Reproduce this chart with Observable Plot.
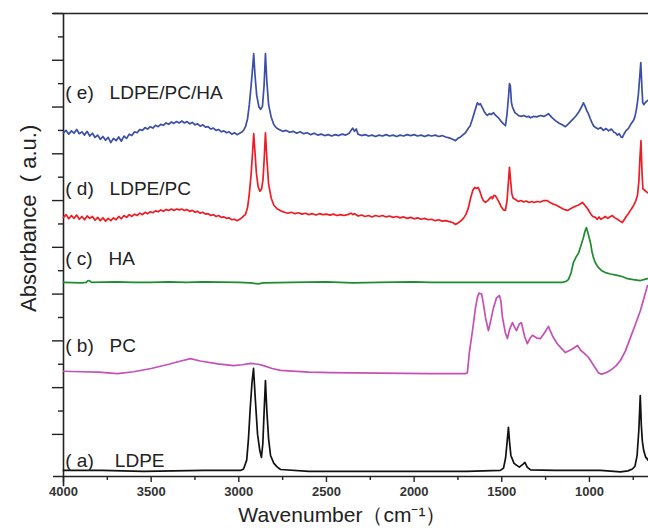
<!DOCTYPE html>
<html>
<head>
<meta charset="utf-8">
<script src="https://cdn.jsdelivr.net/npm/d3@7"></script>
<script src="https://cdn.jsdelivr.net/npm/@observablehq/plot@0.6"></script>
<style>
  html, body { margin: 0; padding: 0; background: #fff; }
  #chart { width: 648px; height: 531px; }
</style>
</head>
<body>
<div id="chart"></div>
<script>
// Wavenumber (cm-1) / absorbance (a.u., stacked offsets) pairs
const seriesE = [ // LDPE/PC/HA
  [4000,6.45],[3985,6.50],[3970,6.42],[3955,6.49],[3940,6.44],[3925,6.52],[3910,6.43],[3895,6.47],[3880,6.40],[3865,6.48],
  [3850,6.38],[3835,6.44],[3820,6.35],[3805,6.40],[3790,6.31],[3775,6.37],[3760,6.29],[3745,6.35],[3730,6.24],[3715,6.33],
  [3700,6.28],[3685,6.36],[3670,6.27],[3655,6.38],[3640,6.33],[3625,6.42],[3610,6.39],[3595,6.47],[3580,6.45],[3565,6.52],
  [3550,6.50],[3535,6.56],[3520,6.53],[3505,6.58],[3490,6.55],[3475,6.61],[3460,6.58],[3445,6.63],[3430,6.61],[3415,6.66],
  [3400,6.63],[3385,6.68],[3370,6.65],[3355,6.69],[3340,6.66],[3325,6.70],[3310,6.66],[3295,6.69],[3280,6.64],[3265,6.67],
  [3250,6.62],[3235,6.64],[3220,6.59],[3205,6.62],[3190,6.57],[3175,6.58],[3160,6.53],[3145,6.55],[3130,6.50],[3115,6.52],
  [3100,6.47],[3085,6.49],[3070,6.45],[3055,6.47],[3040,6.42],[3025,6.45],[3010,6.41],[2995,6.44],[2980,6.47],[2970,6.52],
  [2962,6.58],[2950,6.75],[2940,7.05],[2930,7.45],[2922,7.80],[2915,8.14],[2908,7.70],[2898,7.25],[2885,7.00],[2875,6.95],
  [2865,7.02],[2856,7.45],[2848,8.14],[2840,7.55],[2830,7.05],[2815,6.78],[2800,6.62],[2785,6.55],[2770,6.52],[2750,6.48],
  [2730,6.50],[2710,6.46],[2690,6.48],[2670,6.44],[2650,6.47],[2630,6.43],[2610,6.45],[2590,6.41],[2570,6.44],[2550,6.40],
  [2530,6.42],[2510,6.39],[2490,6.41],[2470,6.38],[2450,6.41],[2430,6.39],[2410,6.42],[2390,6.40],[2370,6.44],[2360,6.50],
  [2350,6.55],[2340,6.48],[2330,6.53],[2320,6.42],[2300,6.39],[2280,6.41],[2260,6.38],[2240,6.40],[2220,6.37],[2200,6.40],
  [2180,6.38],[2160,6.41],[2140,6.38],[2120,6.40],[2100,6.37],[2080,6.40],[2060,6.38],[2040,6.41],[2020,6.39],[2000,6.41],
  [1980,6.38],[1960,6.40],[1940,6.37],[1920,6.40],[1900,6.38],[1880,6.40],[1860,6.37],[1840,6.39],[1820,6.36],[1800,6.34],
  [1780,6.31],[1764,6.28],[1750,6.33],[1735,6.36],[1720,6.41],[1707,6.45],[1690,6.55],[1680,6.60],[1667,6.75],[1655,6.90],
  [1645,7.02],[1639,7.09],[1630,7.05],[1622,7.07],[1610,6.98],[1600,6.90],[1590,6.85],[1582,6.82],[1570,6.86],[1560,6.84],
  [1547,6.88],[1535,6.82],[1525,6.79],[1519,6.77],[1505,6.70],[1490,6.64],[1479,6.60],[1470,6.85],[1462,7.20],[1456,7.50],
  [1451,7.45],[1445,7.10],[1439,7.00],[1425,6.88],[1405,6.82],[1390,6.80],[1375,6.82],[1360,6.79],[1345,6.80],[1336,6.77],
  [1320,6.80],[1300,6.79],[1280,6.82],[1260,6.80],[1240,6.84],[1234,6.86],[1215,6.78],[1194,6.71],[1175,6.66],[1155,6.62],
  [1137,6.58],[1120,6.64],[1105,6.70],[1091,6.75],[1075,6.82],[1060,6.90],[1045,7.00],[1034,7.09],[1025,7.02],[1015,6.92],
  [1006,6.86],[995,6.75],[985,6.66],[977,6.60],[965,6.56],[950,6.53],[935,6.56],[920,6.50],[905,6.54],[890,6.49],
  [875,6.53],[860,6.46],[852,6.45],[840,6.40],[830,6.43],[820,6.36],[812,6.35],[800,6.44],[790,6.50],[778,6.54],
  [766,6.62],[755,6.68],[749,6.71],[740,6.80],[732,6.95],[726,7.10],[720,7.30],[714,7.60],[707,7.95],[701,7.45],
  [696,7.10],[690,7.05],[680,7.10],[669,7.14]
];
const seriesD = [ // LDPE/PC
  [4000,4.64],[3985,4.70],[3970,4.61],[3955,4.68],[3940,4.62],[3925,4.69],[3910,4.60],[3895,4.66],[3880,4.59],[3865,4.67],
  [3850,4.62],[3835,4.66],[3820,4.58],[3805,4.64],[3790,4.57],[3775,4.63],[3760,4.56],[3745,4.62],[3730,4.57],[3715,4.63],
  [3700,4.59],[3685,4.66],[3670,4.61],[3655,4.68],[3640,4.64],[3625,4.70],[3610,4.66],[3595,4.71],[3580,4.68],[3565,4.73],
  [3550,4.70],[3535,4.75],[3520,4.72],[3505,4.76],[3490,4.74],[3475,4.78],[3460,4.76],[3445,4.80],[3430,4.77],[3415,4.81],
  [3400,4.79],[3385,4.82],[3370,4.79],[3355,4.82],[3340,4.80],[3325,4.82],[3310,4.79],[3295,4.81],[3280,4.77],[3265,4.79],
  [3250,4.75],[3235,4.77],[3220,4.73],[3205,4.75],[3190,4.71],[3175,4.72],[3160,4.68],[3145,4.70],[3130,4.66],[3115,4.68],
  [3100,4.64],[3085,4.65],[3070,4.62],[3055,4.63],[3040,4.59],[3025,4.60],[3010,4.57],[2995,4.60],[2980,4.64],[2970,4.68],
  [2962,4.70],[2950,4.85],[2940,5.15],[2930,5.55],[2922,6.00],[2915,6.43],[2908,6.05],[2900,5.60],[2890,5.30],[2880,5.20],
  [2870,5.25],[2862,5.45],[2855,5.90],[2848,6.45],[2840,5.90],[2830,5.35],[2815,5.05],[2800,4.90],[2780,4.82],[2760,4.78],
  [2740,4.75],[2720,4.73],[2700,4.75],[2680,4.72],[2660,4.74],[2640,4.71],[2620,4.73],[2600,4.70],[2580,4.72],[2560,4.69],
  [2540,4.72],[2520,4.70],[2500,4.71],[2480,4.69],[2460,4.71],[2440,4.68],[2420,4.70],[2400,4.68],[2380,4.70],[2360,4.73],
  [2350,4.70],[2340,4.72],[2320,4.67],[2300,4.69],[2280,4.66],[2260,4.68],[2240,4.65],[2220,4.68],[2200,4.66],[2180,4.68],
  [2160,4.65],[2140,4.67],[2120,4.64],[2100,4.66],[2080,4.63],[2060,4.65],[2040,4.62],[2020,4.64],[2000,4.61],[1980,4.63],
  [1960,4.60],[1940,4.62],[1920,4.59],[1900,4.60],[1880,4.57],[1860,4.59],[1840,4.56],[1820,4.57],[1800,4.55],[1780,4.53],
  [1764,4.49],[1750,4.52],[1735,4.56],[1719,4.62],[1705,4.70],[1690,4.85],[1678,5.05],[1665,5.22],[1655,5.28],[1645,5.26],
  [1635,5.28],[1625,5.20],[1615,5.08],[1605,5.00],[1593,4.96],[1580,5.00],[1570,5.04],[1560,5.08],[1553,5.04],[1545,5.11],
  [1536,5.10],[1525,5.03],[1515,4.96],[1505,4.88],[1490,4.80],[1479,4.79],[1470,5.00],[1462,5.40],[1456,5.71],[1450,5.45],
  [1443,5.15],[1435,5.05],[1420,5.02],[1405,4.98],[1390,5.00],[1375,4.97],[1360,4.99],[1345,4.96],[1330,4.98],[1315,4.96],
  [1300,4.98],[1280,4.97],[1260,5.00],[1240,5.00],[1225,4.96],[1210,4.93],[1195,4.91],[1183,4.89],[1165,4.85],[1150,4.82],
  [1137,4.80],[1125,4.79],[1110,4.82],[1095,4.85],[1080,4.88],[1065,4.90],[1050,4.93],[1040,4.96],[1030,4.92],[1020,4.87],
  [1011,4.83],[1000,4.76],[990,4.70],[980,4.66],[966,4.64],[955,4.60],[945,4.65],[935,4.60],[925,4.62],[910,4.66],
  [895,4.62],[880,4.66],[869,4.68],[855,4.63],[840,4.60],[825,4.56],[812,4.53],[800,4.60],[790,4.66],[778,4.72],
  [766,4.79],[755,4.85],[745,4.92],[735,5.00],[726,5.11],[718,5.40],[712,5.90],[706,6.28],[700,5.60],[695,5.25],
  [685,5.22],[669,5.17]
];
const seriesC = [ // HA
  [4000,3.25],[3900,3.24],[3870,3.25],[3860,3.29],[3850,3.28],[3840,3.25],[3700,3.26],[3600,3.25],[3500,3.25],[3400,3.26],
  [3300,3.25],[3200,3.26],[3000,3.25],[2933,3.24],[2890,3.22],[2860,3.24],[2700,3.25],[2500,3.26],[2350,3.24],[2200,3.25],
  [2000,3.26],[1907,3.25],[1700,3.25],[1500,3.25],[1300,3.25],[1154,3.25],[1135,3.27],[1120,3.31],[1105,3.45],[1091,3.68],
  [1075,3.80],[1063,3.87],[1050,4.02],[1034,4.21],[1025,4.35],[1017,4.42],[1008,4.30],[994,4.10],[985,3.90],[977,3.78],
  [965,3.66],[949,3.57],[930,3.50],[909,3.46],[880,3.43],[840,3.40],[810,3.37],[783,3.33],[750,3.31],[709,3.29],[690,3.31],[669,3.33]
];
const seriesB = [ // PC
  [4000,1.35],[3900,1.34],[3800,1.33],[3692,1.30],[3600,1.34],[3500,1.41],[3400,1.50],[3330,1.57],[3276,1.62],[3220,1.57],
  [3120,1.51],[3030,1.47],[2980,1.49],[2933,1.52],[2890,1.50],[2859,1.47],[2810,1.41],[2762,1.37],[2600,1.33],[2477,1.32],
  [2200,1.31],[1907,1.30],[1707,1.30],[1696,1.32],[1685,1.75],[1667,2.22],[1650,2.70],[1639,2.93],[1630,3.02],[1615,3.00],
  [1605,2.80],[1593,2.50],[1576,2.22],[1562,2.45],[1547,2.71],[1530,2.92],[1513,2.97],[1505,2.85],[1496,2.50],[1480,2.18],
  [1468,2.05],[1455,2.25],[1439,2.39],[1428,2.30],[1416,2.22],[1400,2.36],[1388,2.39],[1370,2.10],[1354,1.94],[1340,2.05],
  [1325,2.12],[1300,2.06],[1279,2.05],[1255,2.18],[1234,2.31],[1210,2.10],[1183,1.94],[1160,1.84],[1137,1.75],[1100,1.82],
  [1068,1.90],[1050,1.80],[1034,1.75],[1006,1.65],[980,1.50],[949,1.32],[935,1.29],[920,1.30],[900,1.33],[880,1.37],
  [850,1.46],[823,1.58],[795,1.78],[766,2.07],[740,2.33],[709,2.65],[690,2.90],[669,3.18]
];
const seriesA = [ // LDPE
  [4000,-0.77],[3900,-0.77],[3780,-0.77],[3544,-0.79],[3200,-0.77],[2990,-0.77],[2973,-0.74],[2955,-0.55],[2945,-0.10],[2935,0.55],
  [2925,1.10],[2916,1.41],[2905,0.70],[2893,0.00],[2880,-0.35],[2871,-0.49],[2863,-0.20],[2856,0.45],[2848,1.15],[2840,0.50],
  [2830,-0.10],[2819,-0.45],[2800,-0.62],[2780,-0.70],[2762,-0.75],[2600,-0.79],[2300,-0.79],[2000,-0.79],[1700,-0.79],[1508,-0.77],
  [1490,-0.72],[1478,-0.50],[1468,-0.10],[1462,0.15],[1456,-0.15],[1448,-0.45],[1430,-0.62],[1400,-0.70],[1380,-0.64],[1368,-0.60],
  [1355,-0.70],[1336,-0.76],[1200,-0.77],[937,-0.77],[860,-0.79],[823,-0.80],[780,-0.78],[755,-0.74],[740,-0.68],[728,-0.45],
  [718,0.10],[710,0.83],[704,0.20],[698,-0.15],[690,-0.35],[680,-0.48],[663,-0.56]
];
const seriesNames = ["( e)   LDPE/PC/HA", "( d)   LDPE/PC", "( c)   HA", "( b)   PC", "( a)    LDPE"];
const seriesColors = ["#3b4ea8", "#ee1c24", "#1e8c2e", "#c450b8", "#111111"];
const labelLevels = [7.31, 5.26, 3.76, 1.90, -0.56];
const xMajorTicks = [4000, 3500, 3000, 2500, 2000, 1500, 1000];
const xMinorTicks = [3750, 3250, 2750, 2250, 1750, 1250, 750];
const yMajorTicks = [0, 1, 2, 3, 4, 5, 6, 7, 8, 9];
const yMinorTicks = [0.5, 1.5, 2.5, 3.5, 4.5, 5.5, 6.5, 7.5, 8.5];

const allSeries = [seriesE, seriesD, seriesC, seriesB, seriesA];
const labelRows = seriesNames.map((name, i) => ({name, y: labelLevels[i]}));

const font = "'Liberation Sans', Arial, sans-serif";
const chart = Plot.plot({
  width: 648,
  height: 531,
  marginTop: 13,
  marginLeft: 63,
  marginRight: 0,
  marginBottom: 55,
  x: {domain: [4000, 663]},
  y: {domain: [-0.9, 9]},
  style: {fontFamily: font, background: "#fff", color: "#222"},
  marks: [
    // frame lines
    Plot.ruleY([9], {x1: 4057, x2: 663, stroke: "#222", strokeWidth: 1.6}),
    Plot.ruleY([-0.9], {x1: 4057, x2: 663, stroke: "#222", strokeWidth: 1.6}),
    Plot.ruleX([4000], {y1: -1.12, y2: 9, stroke: "#222", strokeWidth: 1.6}),
    // x axis
    Plot.axisX({ticks: xMajorTicks, tickSize: 6, tickPadding: 4, tickFormat: d => String(d),
      fontSize: 13, fontWeight: "bold", fill: "#333", stroke: "#222", strokeWidth: 1.4, label: null}),
    Plot.axisX({ticks: xMinorTicks, tickSize: 4, tickFormat: () => "", stroke: "#222", strokeWidth: 1.4, label: null}),
    // y axis
    Plot.axisY({ticks: yMajorTicks, tickSize: 11, tickFormat: () => "", stroke: "#222", strokeWidth: 1.4, label: null}),
    Plot.axisY({ticks: yMinorTicks, tickSize: 5, tickFormat: () => "", stroke: "#222", strokeWidth: 1.4, label: null}),
    // spectra
    ...allSeries.map((s, i) => Plot.line(s, {x: d => d[0], y: d => d[1], stroke: seriesColors[i], strokeWidth: 1.7})),
    // series labels
    Plot.text(labelRows, {x: 3990, y: "y", text: "name", textAnchor: "start", fontSize: 19, fill: "#222"}),
    // axis titles
    Plot.text(["Wavenumber（cm⁻¹）"], {x: 2409, y: -0.9, dy: 39, text: d => d, fontSize: 21, fill: "#222"}),
    Plot.text(["Absorbance  ( a.u.)"], {x: 4000, y: 4.62, dx: -35, rotate: -90, text: d => d, fontSize: 22, fill: "#222"})
  ]
});
document.getElementById("chart").appendChild(chart);
</script>
</body>
</html>
